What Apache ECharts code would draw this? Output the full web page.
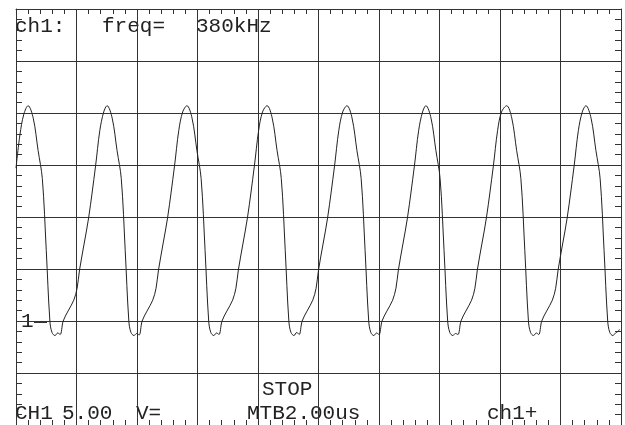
<!DOCTYPE html>
<html>
<head>
<meta charset="utf-8">
<script src="https://cdn.jsdelivr.net/npm/echarts@6/dist/echarts.min.js"></script>
<style>
html,body{margin:0;padding:0;background:#fff;}
#chart{width:625px;height:425px;}
</style>
</head>
<body>
<div id="chart"></div>
<script>
// time in microseconds (2.00 us/div, 10 divisions)
const timeUs = [
  0, 0.13, 0.26,
  0.40, 0.57, 0.73, 0.87, 1.00, 1.12, 1.19, 1.29, 1.38, 1.46, 1.56, 1.72, 1.91, 2.02, 2.10, 2.25, 2.40, 2.63, 2.77, 2.90,
  3.01, 3.18, 3.34, 3.48, 3.61, 3.73, 3.80, 3.90, 3.99, 4.07, 4.17, 4.33, 4.52, 4.63, 4.71, 4.86, 5.01, 5.24, 5.38, 5.51,
  5.65, 5.82, 5.98, 6.12, 6.25, 6.37, 6.44, 6.54, 6.63, 6.71, 6.81, 6.97, 7.16, 7.27, 7.35, 7.50, 7.65, 7.88, 8.02, 8.15,
  8.30, 8.47, 8.63, 8.77, 8.90, 9.02, 9.09, 9.19, 9.28, 9.36, 9.46, 9.62, 9.81, 9.92, 10.00, 10.15, 10.30, 10.53, 10.67, 10.80,
  10.94, 11.11, 11.27, 11.41, 11.54, 11.66, 11.73, 11.83, 11.92, 12.00, 12.10, 12.26, 12.45, 12.56, 12.64, 12.79, 12.94, 13.17, 13.31, 13.44,
  13.55, 13.72, 13.88, 14.02, 14.15, 14.27, 14.34, 14.44, 14.53, 14.61, 14.71, 14.87, 15.06, 15.17, 15.25, 15.40, 15.55, 15.78, 15.92, 16.05,
  16.22, 16.39, 16.55, 16.69, 16.82, 16.94, 17.01, 17.11, 17.20, 17.28, 17.38, 17.54, 17.73, 17.84, 17.92, 18.07, 18.22, 18.45, 18.59, 18.72,
  18.84, 19.01, 19.17, 19.31, 19.44, 19.56, 19.63, 19.73, 19.82, 19.90, 19.95
];
// channel 1 voltage (5.00 V/div, ground marker "1" at 0 V)
const voltage = [
  14.7, 17.9, 19.9,
  20.7, 19.5, 16.4, 13.7, 6.8, 0.0, -1.1, -1.4, -1.15, -1.3, 0.0, 0.95, 2.0, 3.15, 4.9, 7.4, 9.9, 14.9, 18.3, 20.1,
  20.7, 19.5, 16.4, 13.7, 6.8, 0.0, -1.1, -1.4, -1.2, -1.35, 0.0, 0.95, 2.0, 3.15, 4.9, 7.4, 9.9, 14.9, 18.3, 20.1,
  20.7, 19.5, 16.4, 13.7, 6.8, 0.0, -1.1, -1.4, -1.15, -1.3, 0.0, 0.95, 2.0, 3.15, 4.9, 7.4, 9.9, 14.9, 18.3, 20.1,
  20.7, 19.5, 16.4, 13.7, 6.8, 0.0, -1.1, -1.4, -1.1, -1.3, 0.0, 0.95, 2.0, 3.15, 4.9, 7.4, 9.9, 14.9, 18.3, 20.1,
  20.7, 19.5, 16.4, 13.7, 6.8, 0.0, -1.1, -1.4, -1.15, -1.3, 0.0, 0.95, 2.0, 3.15, 4.9, 7.4, 9.9, 14.9, 18.3, 20.1,
  20.7, 19.5, 16.4, 13.7, 6.8, 0.0, -1.1, -1.4, -1.2, -1.3, 0.0, 0.95, 2.0, 3.15, 4.9, 7.4, 9.9, 14.9, 18.3, 20.1,
  20.7, 19.5, 16.4, 13.7, 6.8, 0.0, -1.1, -1.4, -1.15, -1.3, 0.0, 0.95, 2.0, 3.15, 4.9, 7.4, 9.9, 14.9, 18.3, 20.1,
  20.7, 19.5, 16.4, 13.7, 6.8, 0.0, -1.1, -1.4, -1.15, -1.0, -0.8
];
// screen readout texts
const topTexts = ['ch1:', 'freq=', '380kHz'];
const bottomTexts = ['CH1', '5.00', 'V=', 'MTB2.00us', 'ch1+'];
const statusText = 'STOP';
const groundMarker = '1';

const xMin = 0, xMax = 20, xStep = 2;
const yMin = -10, yMax = 30, yStep = 5;

const chart = echarts.init(document.getElementById('chart'), null, {renderer: 'canvas'});
const LINE = '#333';
const FONT = '21px "Liberation Mono", "DejaVu Sans Mono", monospace';

function axisCommon(showSplit) {
  return {
    type: 'value',
    axisLine: {show: true, onZero: false, lineStyle: {color: LINE, width: 1}},
    axisTick: {show: false, inside: true},
    minorTick: {show: true, splitNumber: 5, length: 5, lineStyle: {color: LINE, width: 1}},
    axisLabel: {show: false},
    splitLine: {show: showSplit, lineStyle: {color: LINE, width: 1}},
    minorSplitLine: {show: false}
  };
}

const xa0 = Object.assign(axisCommon(true), {position: 'bottom', min: xMin, max: xMax, interval: xStep});
const xa1 = Object.assign(axisCommon(false), {position: 'top', min: xMin, max: xMax, interval: xStep});
const ya0 = Object.assign(axisCommon(true), {position: 'left', min: yMin, max: yMax, interval: yStep});
const ya1 = Object.assign(axisCommon(false), {position: 'right', min: yMin, max: yMax, interval: yStep});
ya0.minorTick.length = 6; ya1.minorTick.length = 6;

const texts = [];
const topX = [15, 102, 196];
topTexts.forEach((t, i) => texts.push({type: 'text', style: {text: t, x: topX[i], y: 26.5, font: FONT, fill: '#222', verticalAlign: 'middle'}}));
const botX = [15, 62, 136, 247, 487];
bottomTexts.forEach((t, i) => texts.push({type: 'text', style: {text: t, x: botX[i], y: 413.5, font: FONT, fill: '#222', verticalAlign: 'middle'}}));
texts.push({type: 'text', style: {text: statusText, x: 262, y: 389.5, font: FONT, fill: '#222', verticalAlign: 'middle'}});
texts.push({type: 'text', style: {text: groundMarker, x: 21, y: 321.5, font: FONT, fill: '#222', verticalAlign: 'middle'}});
texts.push({type: 'line', shape: {x1: 34, y1: 322.5, x2: 47, y2: 322.5}, style: {stroke: '#333', lineWidth: 1}});

chart.setOption({
  animation: false,
  backgroundColor: '#fff',
  grid: {left: 16, top: 9, width: 605, height: 417, containLabel: false},
  xAxis: [xa0, xa1],
  yAxis: [ya0, ya1],
  series: [{
    type: 'line',
    xAxisIndex: 0,
    yAxisIndex: 0,
    data: timeUs.map((t, i) => [t, voltage[i]]),
    showSymbol: false,
    smooth: 0.35,
    lineStyle: {color: '#222', width: 1},
    z: 5
  }],
  graphic: texts
});
</script>
</body>
</html>
